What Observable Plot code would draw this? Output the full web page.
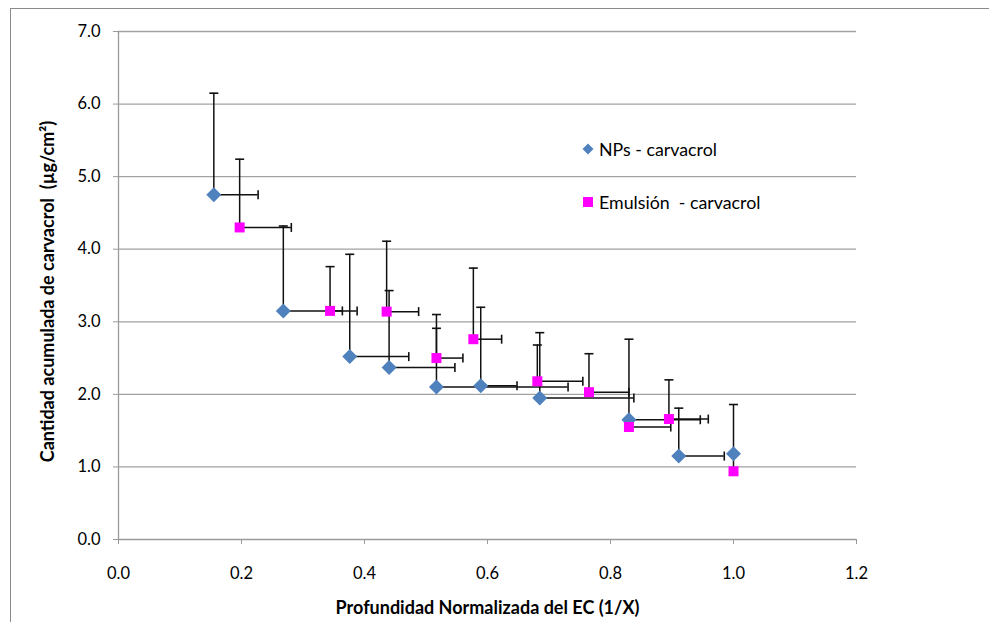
<!DOCTYPE html>
<html>
<head>
<meta charset="utf-8">
<script src="https://cdn.jsdelivr.net/npm/d3@7"></script>
<script src="https://cdn.jsdelivr.net/npm/@observablehq/plot@0.6"></script>
<style>
  html, body { margin: 0; padding: 0; background: #fff; overflow: hidden; }
  #wrap { position: relative; width: 989px; height: 622px; }
  #border { position: absolute; left: 10px; top: 8px; width: 1200px; height: 800px; border: 1px solid #8a8a8a; box-sizing: border-box; pointer-events: none; }
  #legend { position: absolute; left: 0; top: 0; font-family: Lato, "Open Sans", sans-serif; font-size: 17.8px; color: #000; }
  .item { position: absolute; white-space: pre; display: flex; align-items: center; }
  .item svg { margin-right: 5px; }
</style>
</head>
<body>
<div id="wrap">
  <div id="border"></div>
  <div id="chart"></div>
  <div id="legend"></div>
</div>
<script>
// ---- data ----
const xTicks = [0, 0.2, 0.4, 0.6, 0.8, 1.0, 1.2];
const yTicks = [0, 1, 2, 3, 4, 5, 6, 7];

const seriesNames = ["NPs - carvacrol", "Emulsión  - carvacrol"];
const seriesColors = ["#4F81BD", "#FF00FF"];

const npX    = [0.155, 0.268, 0.376, 0.440, 0.517, 0.589, 0.685, 0.830, 0.911, 1.000];
const npY    = [4.75, 3.15, 2.52, 2.37, 2.10, 2.12, 1.95, 1.65, 1.15, 1.18];
const npYErr = [1.40, 1.17, 1.41, 1.06, 1.00, 1.08, 0.90, 1.11, 0.66, 0.68];
const npXErr = [0.072, 0.120, 0.096, 0.107, 0.214, 0.059, 0.153, 0.116, 0.074, 0];

const emX    = [0.197, 0.344, 0.436, 0.517, 0.577, 0.681, 0.765, 0.830, 0.895, 1.000];
const emY    = [4.30, 3.15, 3.14, 2.50, 2.76, 2.18, 2.03, 1.55, 1.66, 0.94];
const emYErr = [0.94, 0.61, 0.97, 0.41, 0.98, 0.50, 0.53, 0, 0.54, 0.25];
const emXErr = [0.084, 0.020, 0.052, 0.043, 0.046, 0.074, 0.065, 0.068, 0.064, 0];

const xTitle = "Profundidad Normalizada del EC (1/X)";
const yTitle = "Cantidad acumulada de carvacrol  (µg/cm²)";

// ---- build rows ----
const np = npX.map((x, i) => ({x, y: npY[i], ye: npYErr[i], xe: npXErr[i]}));
const em = emX.map((x, i) => ({x, y: emY[i], ye: emYErr[i], xe: emXErr[i]}));
const all = np.concat(em);
const vErr = all.filter(d => d.ye > 0);
const hErr = all.filter(d => d.xe > 0);

// ---- custom symbols ----
const rad = s => Math.sqrt(s / Math.PI);
const diamond = {draw(c, s) { const r = rad(s); c.moveTo(0, -r); c.lineTo(r, 0); c.lineTo(0, r); c.lineTo(-r, 0); c.closePath(); }};
const square = {draw(c, s) { const r = rad(s); c.rect(-r, -r, 2 * r, 2 * r); }};
const hcap = {draw(c, s) { const r = rad(s); c.moveTo(-r, 0); c.lineTo(r, 0); }};
const vcap = {draw(c, s) { const r = rad(s); c.moveTo(0, -r); c.lineTo(0, r); }};

const fmt = d3.format(".1f");
const errColor = "#111";

const chart = Plot.plot({
  width: 989,
  height: 622,
  marginLeft: 118,
  marginRight: 133,
  marginTop: 31,
  marginBottom: 83,
  style: {fontFamily: "Lato, 'Open Sans', sans-serif", fontSize: "16.5px", color: "#000", background: "transparent", overflow: "visible"},
  x: {domain: [0, 1.2]},
  y: {domain: [0, 7]},
  marks: [
    Plot.ruleY(yTicks.filter(d => d > 0), {stroke: "#a2a2a2", strokeWidth: 1.3}),
    Plot.ruleY([0], {stroke: "#9a9a9a", strokeWidth: 1.3}),
    Plot.ruleX([0], {stroke: "#9a9a9a", strokeWidth: 1.3}),
    Plot.axisX({ticks: xTicks, tickFormat: fmt, tickSize: 5, tickPadding: 23, stroke: "#9a9a9a", fill: "#000", label: null}),
    Plot.axisY({ticks: yTicks, tickFormat: fmt, tickSize: 5, tickPadding: 13, stroke: "#9a9a9a", fill: "#000", label: null}),
    // error bars
    Plot.ruleX(vErr, {x: "x", y1: "y", y2: d => d.y + d.ye, stroke: errColor, strokeWidth: 1.5}),
    Plot.ruleY(hErr, {y: "y", x1: "x", x2: d => d.x + d.xe, stroke: errColor, strokeWidth: 1.5}),
    Plot.dot(vErr, {x: "x", y: d => d.y + d.ye, symbol: hcap, r: 4.5, fill: "none", stroke: errColor, strokeWidth: 1.6}),
    Plot.dot(hErr, {x: d => d.x + d.xe, y: "y", symbol: vcap, r: 4.5, fill: "none", stroke: errColor, strokeWidth: 1.6}),
    // markers
    Plot.dot(np, {x: "x", y: "y", symbol: diamond, r: 7.5, fill: seriesColors[0], stroke: "none"}),
    Plot.dot(em, {x: "x", y: "y", symbol: square, r: 5, fill: seriesColors[1], stroke: "none"}),
    // axis titles
    Plot.text([xTitle], {frameAnchor: "bottom", dy: 69, textAnchor: "middle", lineAnchor: "middle", text: d => d, fontWeight: "bold", fontSize: 18, fill: "#000"}),
    Plot.text([yTitle], {frameAnchor: "left", dx: -70, dy: 6, rotate: -90, textAnchor: "middle", lineAnchor: "middle", text: d => d, fontWeight: "bold", fontSize: 18, fill: "#000"})
  ]
});
document.getElementById("chart").appendChild(chart);

// ---- legend ----
const legend = document.getElementById("legend");
const shapes = [
  '<svg width="12" height="12" viewBox="-6 -6 12 12"><path d="M0,-5.5L5.5,0L0,5.5L-5.5,0Z" fill="' + seriesColors[0] + '"/></svg>',
  '<svg width="12" height="12" viewBox="-6 -6 12 12"><rect x="-5" y="-5" width="10" height="10" fill="' + seriesColors[1] + '"/></svg>'
];
const legendTop = [149, 202];
seriesNames.forEach((name, i) => {
  const el = document.createElement("div");
  el.className = "item";
  el.style.left = "582px";
  el.style.top = (legendTop[i] - 12) + "px";
  el.style.height = "24px";
  el.innerHTML = shapes[i] + "<span>" + name + "</span>";
  legend.appendChild(el);
});
</script>
</body>
</html>
